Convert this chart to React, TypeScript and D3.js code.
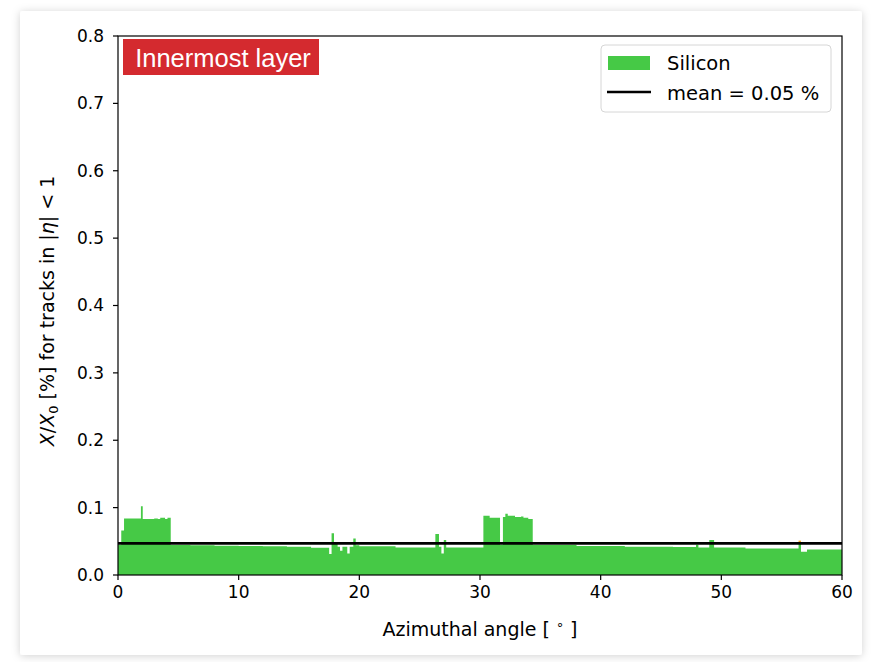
import React, { useRef, useEffect } from "react";
import { select, scaleLinear, area, curveStepAfter } from "d3";

// bin edges in degrees (variable width), one more than the values
const binEdges = [
  0, 0.27, 0.5, 1.9, 2.05, 3.0, 3.3, 3.5, 3.9, 4.1, 4.37, 6, 8, 10, 12, 14, 16,
  17.5, 17.7, 17.9, 18.2, 18.4, 18.6, 19.0, 19.2, 19.5, 19.7, 20, 23, 26.3,
  26.6, 26.8, 27.0, 27.2, 30.28, 30.8, 31.66, 31.9, 32.1, 32.3, 32.9, 33.4,
  33.6, 34.0, 34.37, 38, 42, 46, 47.9, 48.1, 49.0, 49.4, 52, 56.4, 56.6, 57.1,
  60,
];

// silicon X/X0 [%] per bin
const siliconValues = [
  0.045, 0.066, 0.084, 0.102, 0.083, 0.084, 0.083, 0.085, 0.083, 0.085,
  0.0445, 0.044, 0.0435, 0.043, 0.0425, 0.042, 0.0405, 0.031, 0.062, 0.048,
  0.042, 0.036, 0.042, 0.032, 0.042, 0.054, 0.044, 0.0425, 0.041, 0.061, 0.042,
  0.032, 0.052, 0.041, 0.088, 0.085, 0.045, 0.086, 0.091, 0.088, 0.086, 0.087,
  0.085, 0.083, 0.0445, 0.043, 0.042, 0.0415, 0.045, 0.041, 0.052, 0.041,
  0.0395, 0.048, 0.0345, 0.038,
];

// small orange cap seen near 56.5 deg
const otherEdges = [56.4, 56.6];
const otherValues = [0.003];

const meanValue = 0.047;
const meanLabel = "mean = 0.05 %";
const yTicks = [0, 0.1, 0.2, 0.3, 0.4, 0.5, 0.6, 0.7, 0.8];
const xTicks = [0, 10, 20, 30, 40, 50, 60];

const GREEN = "#46c946";
const FONT = "'DejaVu Sans', sans-serif";

function App() {
  const svgRef = useRef(null);

  useEffect(() => {
    const svg = select(svgRef.current);
    svg.selectAll("*").remove();

    const margin = { left: 118, right: 842, top: 36, bottom: 575 };
    const xScale = scaleLinear().domain([0, 60]).range([margin.left, margin.right]);
    const yScale = scaleLinear().domain([0, 0.8]).range([margin.bottom, margin.top]);

    // card with a soft shadow
    const defs = svg.append("defs");
    const f = defs
      .append("filter")
      .attr("id", "shadow")
      .attr("x", "-5%")
      .attr("y", "-5%")
      .attr("width", "110%")
      .attr("height", "110%");
    f.append("feDropShadow")
      .attr("dx", 0)
      .attr("dy", 1)
      .attr("stdDeviation", 4)
      .attr("flood-color", "#000")
      .attr("flood-opacity", 0.18);

    svg.append("rect").attr("width", 877).attr("height", 662).attr("fill", "#fff");
    svg
      .append("rect")
      .attr("x", 20)
      .attr("y", 11)
      .attr("width", 842)
      .attr("height", 644)
      .attr("rx", 3)
      .attr("fill", "#fff")
      .attr("filter", "url(#shadow)");

    // silicon histogram as one step area (no seams between bins)
    const steps = siliconValues.map((v, i) => [binEdges[i], v]);
    steps.push([binEdges[binEdges.length - 1], siliconValues[siliconValues.length - 1]]);
    const histArea = area()
      .x((d) => xScale(d[0]))
      .y0(yScale(0))
      .y1((d) => yScale(d[1]))
      .curve(curveStepAfter);
    svg.append("path").datum(steps).attr("d", histArea).attr("fill", GREEN);

    // orange cap stacked on top of the silicon
    svg
      .selectAll(".other")
      .data(otherValues)
      .join("rect")
      .attr("class", "other")
      .attr("x", (d, i) => xScale(otherEdges[i]))
      .attr("width", (d, i) => xScale(otherEdges[i + 1]) - xScale(otherEdges[i]))
      .attr("y", (d, i) => {
        const base = siliconValues[binEdges.indexOf(otherEdges[i])];
        return yScale(base + d);
      })
      .attr("height", (d) => yScale(0) - yScale(d))
      .attr("fill", "#f5a623");

    // mean line
    svg
      .append("line")
      .attr("x1", xScale(0))
      .attr("x2", xScale(60))
      .attr("y1", yScale(meanValue))
      .attr("y2", yScale(meanValue))
      .attr("stroke", "#000")
      .attr("stroke-width", 2.6);

    // frame
    svg
      .append("rect")
      .attr("x", margin.left)
      .attr("y", margin.top)
      .attr("width", margin.right - margin.left)
      .attr("height", margin.bottom - margin.top)
      .attr("fill", "none")
      .attr("stroke", "#000")
      .attr("stroke-width", 1.2);

    // y ticks
    const yt = svg.selectAll(".ytick").data(yTicks).join("g").attr("class", "ytick");
    yt.append("line")
      .attr("x1", margin.left - 5)
      .attr("x2", margin.left)
      .attr("y1", (d) => yScale(d))
      .attr("y2", (d) => yScale(d))
      .attr("stroke", "#000")
      .attr("stroke-width", 1.2);
    yt.append("text")
      .attr("x", margin.left - 14)
      .attr("y", (d) => yScale(d))
      .attr("dy", "0.35em")
      .attr("text-anchor", "end")
      .attr("font-family", FONT)
      .attr("font-size", 17)
      .text((d) => d.toFixed(1));

    // x ticks
    const xt = svg.selectAll(".xtick").data(xTicks).join("g").attr("class", "xtick");
    xt.append("line")
      .attr("x1", (d) => xScale(d))
      .attr("x2", (d) => xScale(d))
      .attr("y1", margin.bottom)
      .attr("y2", margin.bottom + 5)
      .attr("stroke", "#000")
      .attr("stroke-width", 1.2);
    xt.append("text")
      .attr("x", (d) => xScale(d))
      .attr("y", margin.bottom + 23)
      .attr("text-anchor", "middle")
      .attr("font-family", FONT)
      .attr("font-size", 17)
      .text((d) => d);

    // axis labels
    const xl = svg
      .append("text")
      .attr("x", 480)
      .attr("y", 636)
      .attr("text-anchor", "middle")
      .attr("font-family", FONT)
      .attr("font-size", 19);
    xl.append("tspan").text("Azimuthal angle [ ");
    xl.append("tspan").attr("font-size", 13).attr("dy", -7).text("\u2218");
    xl.append("tspan").attr("dy", 7).text(" ]");

    const yl = svg
      .append("text")
      .attr("transform", `translate(54,311) rotate(-90)`)
      .attr("text-anchor", "middle")
      .attr("font-family", FONT)
      .attr("font-size", 19);
    yl.append("tspan").attr("font-style", "italic").text("X");
    yl.append("tspan").text("/");
    yl.append("tspan").attr("font-style", "italic").text("X");
    yl.append("tspan").attr("font-size", 13).attr("dy", 4).text("0");
    yl.append("tspan").attr("dy", -4).text(" [%] for tracks in |");
    yl.append("tspan").attr("font-style", "italic").text("\u03b7");
    yl.append("tspan").text("| < 1");

    // title badge
    svg
      .append("rect")
      .attr("x", 123)
      .attr("y", 39)
      .attr("width", 196)
      .attr("height", 36)
      .attr("fill", "#d42a2f");
    svg
      .append("text")
      .attr("x", 223)
      .attr("y", 67)
      .attr("text-anchor", "middle")
      .attr("font-family", "'Liberation Sans', Arial, sans-serif")
      .attr("font-size", 25.5)
      .attr("fill", "#fff")
      .text("Innermost layer");

    // legend
    const lg = svg.append("g");
    lg.append("rect")
      .attr("x", 601)
      .attr("y", 45)
      .attr("width", 230)
      .attr("height", 67)
      .attr("rx", 4)
      .attr("fill", "#fff")
      .attr("stroke", "#d6d6d6")
      .attr("stroke-width", 1);
    lg.append("rect")
      .attr("x", 608)
      .attr("y", 56)
      .attr("width", 42)
      .attr("height", 14)
      .attr("fill", GREEN);
    lg.append("text")
      .attr("x", 667)
      .attr("y", 70)
      .attr("font-family", FONT)
      .attr("font-size", 19.5)
      .text("Silicon");
    lg.append("line")
      .attr("x1", 607)
      .attr("x2", 651)
      .attr("y1", 92)
      .attr("y2", 92)
      .attr("stroke", "#000")
      .attr("stroke-width", 2.6);
    lg.append("text")
      .attr("x", 667)
      .attr("y", 100)
      .attr("font-family", FONT)
      .attr("font-size", 19.5)
      .text(meanLabel);
  }, []);

  return (
    <svg
      ref={svgRef}
      width={877}
      height={662}
      style={{ position: "absolute", left: 0, top: 0, display: "block" }}
    />
  );
}

export default App;
